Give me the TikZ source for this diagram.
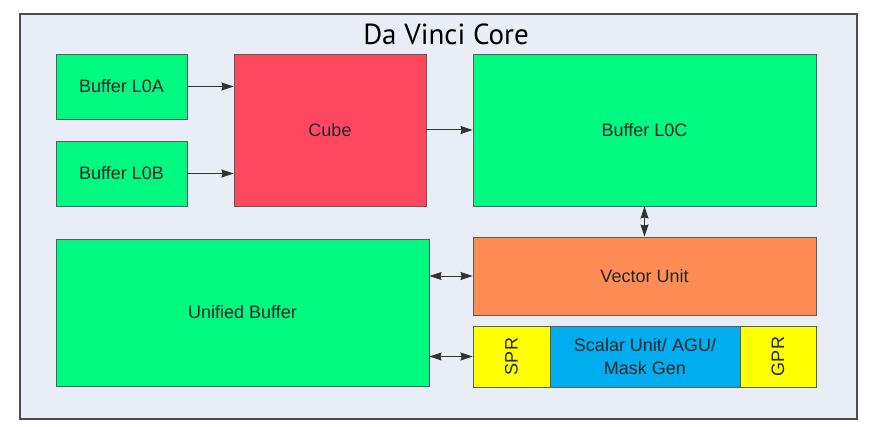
\documentclass[tikz,border=0pt]{standalone}
\usepackage{fontspec}
\setmainfont{Liberation Sans}
\newfontfamily\titlefont{PT Sans}
\usepackage{tikz}
\usetikzlibrary{arrows.meta, calc}

\definecolor{coreBg}{HTML}{E9EDF5}
\definecolor{bufGreen}{HTML}{00F980}
\definecolor{cubeRed}{HTML}{FF4860}
\definecolor{vecOrange}{HTML}{FF8C55}
\definecolor{scalBlue}{HTML}{00AEEF}
\definecolor{regYellow}{HTML}{FFFF00}
\definecolor{edgeGray}{HTML}{55605C}

\tikzset{
    blk/.style={draw=edgeGray, line width=0.9pt, inner sep=0pt, align=center,
        font=\fontsize{18}{23}\selectfont, text=black!85},
    link/.style={line width=1pt, draw=black!80, >={Stealth[length=12pt, width=8pt, inset=1pt]}},
}

\begin{document}
\begin{tikzpicture}[x=1pt, y=-1pt]
    \useasboundingbox (0,0) rectangle (874,427);
    \draw[draw=black!70, line width=1.4pt, fill=coreBg] (20,14) rectangle (857,419);
    \node[font=\titlefont\fontsize{29}{32}\selectfont] (title) at (446,34) {Da Vinci Core};

    % buffers and cube
    \node[blk, fill=bufGreen, minimum width=131pt, minimum height=65pt] (bufA) at (121.5,86.5) {Buffer L0A};
    \node[blk, fill=bufGreen, minimum width=131pt, minimum height=65pt] (bufB) at (121.5,173.5) {Buffer L0B};
    \node[blk, fill=cubeRed, minimum width=192pt, minimum height=152pt] (cube) at (330,130) {Cube};
    \node[blk, fill=bufGreen, minimum width=343pt, minimum height=152pt] (bufC) at (644.5,130) {Buffer L0C};

    % vector / scalar side
    \node[blk, fill=vecOrange, minimum width=343pt, minimum height=78pt] (vec) at (644.5,276) {Vector Unit};
    \node[blk, fill=bufGreen, minimum width=373pt, minimum height=147pt] (ub) at (242.5,312.5) {Unified Buffer};
    \node[blk, fill=regYellow, minimum width=77pt, minimum height=61pt] (spr) at (511.5,356.5) {};
    \node[blk, draw=none, rotate=90] (sprText) at (spr.center) {SPR};
    \node[blk, fill=scalBlue, minimum width=190pt, minimum height=61pt] (scal) at (645,356.5) {Scalar Unit/ AGU/\\Mask Gen};
    \node[blk, fill=regYellow, minimum width=76pt, minimum height=61pt] (gpr) at (778,356.5) {};
    \node[blk, draw=none, rotate=90] (gprText) at (gpr.center) {GPR};

    \draw[link, ->] (bufA.east) -- (bufA.east -| cube.west);
    \draw[link, ->] (bufB.east) -- (bufB.east -| cube.west);
    \draw[link, ->] (cube.east) -- (bufC.west);
    \draw[link, <->] (bufC.south) -- (vec.north);
    \draw[link, <->] (ub.east |- vec.west) -- (vec.west);
    \draw[link, <->] (ub.east |- spr.west) -- (spr.west);
\end{tikzpicture}
\end{document}
